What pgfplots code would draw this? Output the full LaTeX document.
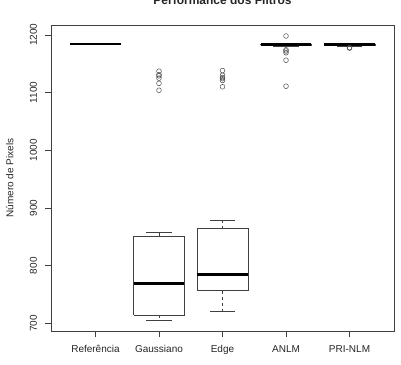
\documentclass[border=0pt]{standalone}
\usepackage{pgfplots}
\pgfplotsset{compat=1.18}
\usepackage{fontspec}
\setmainfont{Liberation Sans}
\begin{document}
\begin{tikzpicture}
\begin{axis}[
 at={(0pt,0pt)}, anchor=south west,
 scale only axis, width=343pt, height=306pt,
 xmin=0.3, xmax=5.7, ymin=687, ymax=1217,
 xtick={1,2,3,4,5}, xticklabels={Referência,Gaussiano,Edge,ANLM,PRI-NLM},
 ytick={700,800,900,1000,1100,1200},
 tick align=outside, xtick pos=bottom, ytick pos=left,
 major tick length=6pt,
 axis line style={black!75, line width=0.6pt},
 tick style={black!75, line width=0.6pt},
 /pgf/number format/assume math mode=true,
 /pgf/number format/set thousands separator={},
 ticklabel style={font=\fontsize{10}{12}\selectfont, text=black!85},
 xticklabel style={anchor=base},
 xticklabel shift=15.5pt,
 yticklabel style={rotate=90, anchor=base},
 yticklabel shift=8pt,
 ylabel={Número de Pixels},
 ylabel style={font=\fontsize{10}{12}\selectfont, text=black!85, at={(axis description cs:-0.11,0.5)}, anchor=base},
 bx/.style={black!75, line width=0.6pt, solid},
 wh/.style={black!75, line width=0.6pt, dashed},
 md/.style={black, line width=2.4pt},
 ol/.style={only marks, mark=o, mark size=2.4pt, mark options={black!70, line width=0.5pt}},
 ]
% Referencia
\addplot[md] coordinates {(0.6,1184) (1.4,1184)};
% Gaussiano
\addplot[wh] coordinates {(2,851.5) (2,858.5)};
\addplot[wh] coordinates {(2,714) (2,705)};
\addplot[bx] coordinates {(1.8,858.5) (2.2,858.5)};
\addplot[bx] coordinates {(1.8,705) (2.2,705)};
\addplot[bx] coordinates {(1.6,714) (2.4,714) (2.4,851.5) (1.6,851.5) (1.6,714)};
\addplot[md] coordinates {(1.6,769.5) (2.4,769.5)};
\addplot[ol] coordinates {(2,1137) (2,1131) (2,1129) (2,1125) (2,1116) (2,1104)};
% Edge
\addplot[wh] coordinates {(3,864.5) (3,879)};
\addplot[wh] coordinates {(3,757) (3,721)};
\addplot[bx] coordinates {(2.8,879) (3.2,879)};
\addplot[bx] coordinates {(2.8,721) (3.2,721)};
\addplot[bx] coordinates {(2.6,757) (3.4,757) (3.4,864.5) (2.6,864.5) (2.6,757)};
\addplot[md] coordinates {(2.6,785) (3.4,785)};
\addplot[ol] coordinates {(3,1138) (3,1130) (3,1126) (3,1124) (3,1121) (3,1110)};
% ANLM
\addplot[bx] coordinates {(3.8,1180) (4.2,1180)};
\addplot[bx] coordinates {(3.6,1181.8) (4.4,1181.8) (4.4,1184) (3.6,1184) (3.6,1181.8)};
\addplot[md] coordinates {(3.6,1183.5) (4.4,1183.5)};
\addplot[ol] coordinates {(4,1198) (4,1174) (4,1172) (4,1169) (4,1156) (4,1111)};
% PRI-NLM
\addplot[bx] coordinates {(4.8,1180.5) (5.2,1180.5)};
\addplot[bx] coordinates {(4.6,1181.8) (5.4,1181.8) (5.4,1184) (4.6,1184) (4.6,1181.8)};
\addplot[md] coordinates {(4.6,1183.5) (5.4,1183.5)};
\addplot[ol] coordinates {(5,1177) (5,1178)};
\end{axis}
\node[anchor=base, font=\bfseries\fontsize{12}{14}\selectfont, text=black!85] at (171.5pt,326pt) {Performance dos Filtros};
\pgfresetboundingbox
\useasboundingbox (-51pt,-33pt) rectangle (350pt,331pt);
\end{tikzpicture}
\end{document}
